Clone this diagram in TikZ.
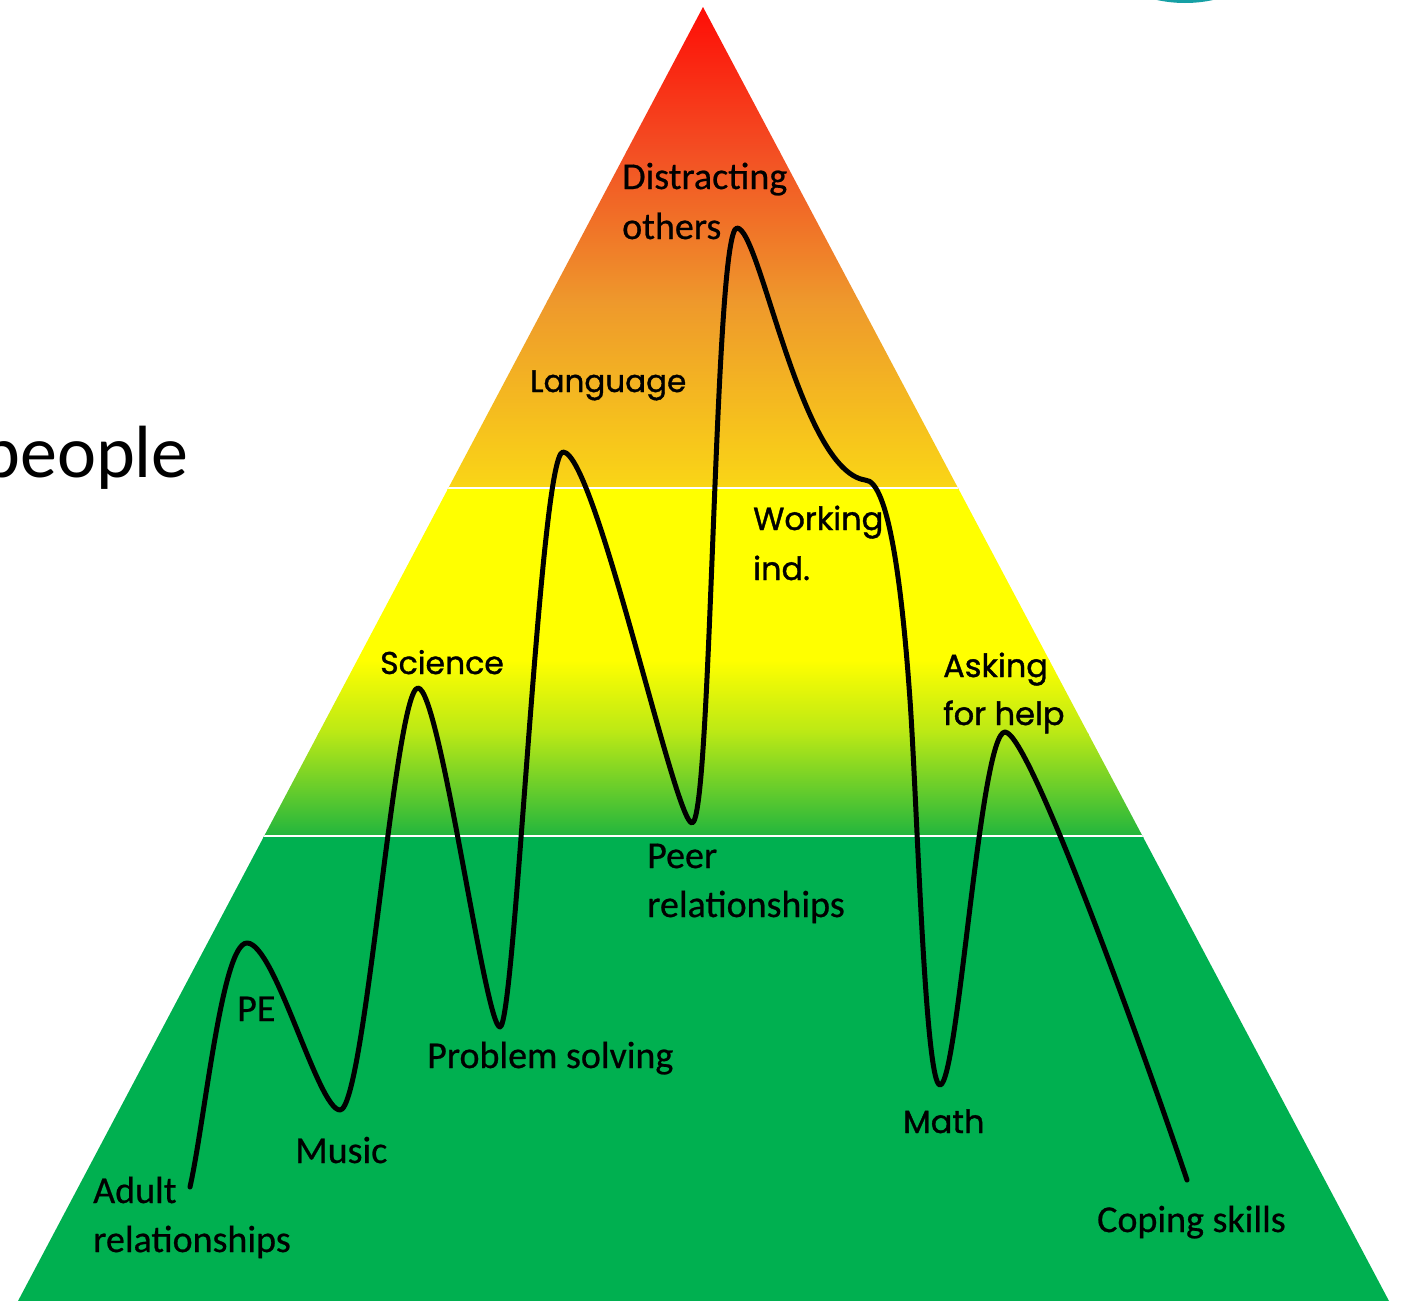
\documentclass[tikz,border=0pt]{standalone}
\usepackage{fontspec}
\setmainfont{Carlito}
\newfontfamily\lblfont{Carlito}[FakeBold=0.6]
\newfontfamily\geofont{Poppins}[FakeBold=1.2]
\definecolor{redtop}{RGB}{255,10,5}
\definecolor{orA}{RGB}{243,78,35}
\definecolor{orB}{RGB}{238,152,44}
\definecolor{orC}{RGB}{250,214,22}
\definecolor{yel}{RGB}{255,255,0}
\definecolor{ygA}{RGB}{185,232,22}
\definecolor{ygB}{RGB}{32,181,62}
\definecolor{grn}{RGB}{0,176,80}
\definecolor{teal}{RGB}{22,160,165}
\begin{document}
\begin{tikzpicture}[x=1pt,y=-1pt,
  lbl/.style={anchor=base west, inner sep=0pt, font=\lblfont\fontsize{38}{46}\selectfont},
  glbl/.style={anchor=base west, inner sep=0pt, font=\geofont\fontsize{32}{40}\selectfont},
  wave/.style={line width=5pt, line cap=round, line join=round, black},
  sep/.style={white, line width=2pt}]
\useasboundingbox (0,0) rectangle (1406,1301);
% teal circle at top right (cut off)
\fill[teal] (1185,-129) circle (132);
% big partial word on the left
\node[anchor=base east, inner sep=0pt, font=\fontsize{74}{80}\selectfont] (people) at (189,477) {people};
% triangle
\coordinate (apex) at (703,7);
\coordinate (bl) at (18,1301);
\coordinate (br) at (1389,1301);
\begin{scope}
  \clip (apex) -- (bl) -- (br) -- cycle;
  \shade[top color=redtop, bottom color=orA] (0,0) rectangle (1406,151);
  \shade[top color=orA, bottom color=orB] (0,150) rectangle (1406,301);
  \shade[top color=orB, bottom color=orC] (0,300) rectangle (1406,489);
  \fill[yel] (0,488) rectangle (1406,661);
  \shade[top color=yel, bottom color=ygA] (0,660) rectangle (1406,734);
  \shade[top color=ygA, bottom color=ygB] (0,733) rectangle (1406,837);
  \fill[grn] (0,836) rectangle (1406,1302);
  \draw[sep] (0,488) -- (1406,488);
  \draw[sep] (0,836) -- (1406,836);
\end{scope}
% key points of the curve
\coordinate (s0) at (190,1187);
\coordinate (pPE) at (247,943);
\coordinate (tMu) at (340,1110);
\coordinate (pSc) at (418,688);
\coordinate (tPS) at (500,1027);
\coordinate (pLa) at (563,452);
\coordinate (tPe) at (692,823);
\coordinate (pDi) at (737,228);
\coordinate (sh) at (865,480);
\coordinate (mW) at (910,700);
\coordinate (tMa) at (940,1085);
\coordinate (pAs) at (1005,732);
\coordinate (e0) at (1187,1180);
\draw[wave] (s0)
  .. controls (205,1120) and (222,943) .. (pPE)
  .. controls (275,943) and (318,1110) .. (tMu)
  .. controls (365,1110) and (395,688) .. (pSc)
  .. controls (440,688) and (485,1027) .. (tPS)
  .. controls (515,1027) and (540,452) .. (pLa)
  .. controls (595,452) and (675,823) .. (tPe)
  .. controls (712,823) and (714,228) .. (pDi)
  .. controls (760,228) and (800,470) .. (sh)
  .. controls (890,480) and (903,600) .. (mW)
  .. controls (917,800) and (925,1085) .. (tMa)
  .. controls (958,1085) and (980,732) .. (pAs)
  .. controls (1030,732) and (1150,1070) .. (e0);
% labels
\node[lbl] (distr1) at (622,189) {Distracting};
\node[lbl] (distr2) at (622,239) {others};
\node[glbl, font=\geofont\fontsize{31}{40}\selectfont] (lang) at (530,392) {Language};
\node[glbl] (work1) at (753,530) {Working};
\node[glbl] (work2) at (753,580) {ind.};
\node[glbl, font=\geofont\fontsize{31.5}{40}\selectfont] (sci) at (380,674) {Science};
\node[glbl] (ask1) at (943,677) {Asking};
\node[glbl] (ask2) at (943,725) {for help};
\node[glbl] (math) at (903,1133) {Math};
\node[lbl] (pe) at (237,1021) {PE};
\node[lbl] (music) at (295,1163) {Music};
\node[lbl] (prob) at (427,1068) {Problem solving};
\node[lbl] (peer1) at (647,868) {Peer};
\node[lbl] (peer2) at (647,917) {relationships};
\node[lbl] (adult1) at (93,1203) {Adult};
\node[lbl] (adult2) at (93,1252) {relationships};
\node[lbl] (cope) at (1097,1232) {Coping skills};
\end{tikzpicture}
\end{document}
